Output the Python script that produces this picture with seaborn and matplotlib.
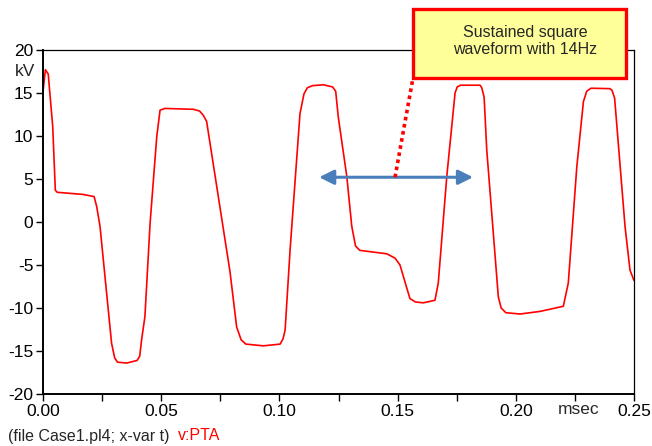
import numpy as np
import matplotlib
matplotlib.use("Agg")
import matplotlib.pyplot as plt
import seaborn as sns
from matplotlib.patches import Rectangle

# waveform v:PTA (time in msec, voltage in kV)
t_ms = [0.0, 0.001, 0.0022, 0.0041, 0.0052, 0.006, 0.017, 0.0216, 0.0227, 0.0241,
        0.029, 0.0303, 0.0315, 0.0354, 0.0398, 0.0409, 0.0417, 0.0431, 0.0453, 0.0481,
        0.0495, 0.0516, 0.0636, 0.0662, 0.0678, 0.0692, 0.0791, 0.0819, 0.0838, 0.0858,
        0.0932, 0.1003, 0.1015, 0.1024, 0.1045, 0.1087, 0.1104, 0.1118, 0.1140, 0.1186,
        0.1225, 0.1238, 0.1249, 0.1285, 0.1306, 0.1322, 0.1340, 0.1383, 0.1454, 0.1489,
        0.151, 0.1552, 0.1575, 0.1609, 0.1658, 0.1672, 0.1708, 0.1743, 0.1752, 0.1766,
        0.1849, 0.1856, 0.1866, 0.1877, 0.1926, 0.1938, 0.1958, 0.2018, 0.2102, 0.2201,
        0.2222, 0.2258, 0.2286, 0.2300, 0.2318, 0.2398, 0.2407, 0.2418, 0.2462, 0.2483,
        0.25]
v_kv = [15.2, 17.7, 17.2, 11.1, 3.7, 3.45, 3.2, 2.95, 1.8, -0.5,
        -14.1, -15.8, -16.3, -16.4, -16.1, -15.6, -13.7, -11.0, -0.1, 9.9,
        13.0, 13.2, 13.1, 12.9, 12.4, 11.7, -5.8, -12.2, -13.7, -14.2,
        -14.4, -14.2, -13.6, -12.6, -3.3, 12.6, 14.9, 15.6, 15.85, 15.95,
        15.7, 15.2, 12.2, 5.3, -0.5, -2.8, -3.3, -3.45, -3.7, -4.2,
        -5.0, -8.9, -9.3, -9.4, -9.1, -7.1, 5.3, 15.0, 15.7, 15.9,
        15.9, 15.6, 14.5, 8.4, -8.7, -10.0, -10.55, -10.7, -10.4, -9.8,
        -7.1, 6.4, 14.0, 15.2, 15.55, 15.5, 15.3, 14.4, -0.5, -5.6,
        -6.8]

x_ticks = [0.0, 0.025, 0.05, 0.075, 0.10, 0.125, 0.15, 0.175, 0.20, 0.225, 0.25]
x_labels = ["0.00", "", "0.05", "", "0.10", "", "0.15", "", "0.20", "", "0.25"]
y_ticks = [-20, -15, -10, -5, 0, 5, 10, 15, 20]

# span marked by the double arrow, and the callout text
arrow_span = (0.1168, 0.1819)
arrow_level = 5.2
callout_text = "Sustained square\nwaveform with 14Hz"

sns.set_style("ticks")
plt.rcParams['font.family'] = ['Liberation Sans', 'DejaVu Sans']
plt.rcParams['axes.unicode_minus'] = False

fig = plt.figure(figsize=(6.52, 4.46), dpi=100)
ax = fig.add_axes([0.066, 0.1166, 0.9064, 0.7714])

sns.lineplot(x=t_ms, y=v_kv, color='red', linewidth=1.2, ax=ax, sort=False)

ax.set_xlim(0, 0.25)
ax.set_ylim(-20, 20)
ax.set_xticks(x_ticks)
ax.set_xticklabels(x_labels)
ax.set_yticks(y_ticks)
ax.tick_params(direction='out', length=5, width=1, labelsize=12.5, colors='black', pad=2)
ax.set_xlabel("")
ax.set_ylabel("")
for side in ['left', 'bottom']:
    ax.spines[side].set_linewidth(1.4)
for side in ['top', 'right']:
    ax.spines[side].set_linewidth(0.9)
for s in ax.spines.values():
    s.set_color('black')

# unit labels
ax.text(-0.0035, 17.5, "kV", ha='right', va='center', fontsize=12.5)
ax.text(0.2265, -20.9, "msec", ha='center', va='top', fontsize=12.5)

# double arrow
ax.annotate('', xy=(arrow_span[1], arrow_level), xytext=(arrow_span[0], arrow_level),
            arrowprops=dict(arrowstyle='<|-|>', color='#4a7ebb', lw=2.2,
                            mutation_scale=22, shrinkA=0, shrinkB=0))

# dotted leader to the callout box
ax.plot([0.1489, 0.1565], [arrow_level, 16.74], color='red', lw=2.6,
        linestyle=(0, (1, 1)), clip_on=False, zorder=5)

# callout box
box = Rectangle((413 / 652, 1 - 78 / 446), 213 / 652, 69 / 446, transform=fig.transFigure,
                facecolor='#FFFF99', edgecolor='red', linewidth=2.4, zorder=10)
fig.patches.append(box)
fig.text(525 / 652, 1 - 41 / 446, callout_text, ha='center', va='center',
         fontsize=11.5, linespacing=1.1, zorder=11)

# footer
fig.text(8 / 652, 1 - 436 / 446, "(file Case1.pl4; x-var t)", ha='left', va='center',
         fontsize=11.5)
fig.text(178 / 652, 1 - 436 / 446, "v:PTA", ha='left', va='center', fontsize=11.5, color='red')

fig.savefig("out.png", dpi=100)
